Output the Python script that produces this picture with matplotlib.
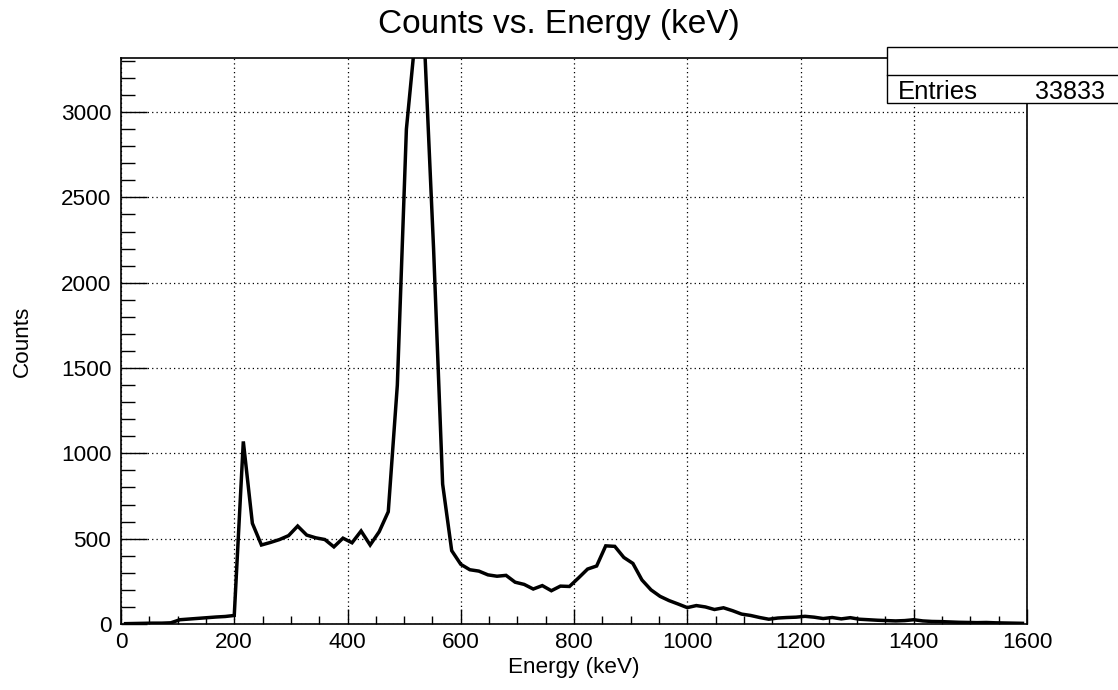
"""Counts vs. energy spectrum, ROOT-style histogram drawn as a line."""

import matplotlib
matplotlib.use("Agg")
import matplotlib.pyplot as plt
from matplotlib.patches import Rectangle
from matplotlib.ticker import MultipleLocator
import numpy as np

# 100 bins of 16 keV between 0 and 1600 keV
BIN_WIDTH = 16
energy_kev = np.arange(BIN_WIDTH / 2, 1600, BIN_WIDTH)
counts = [
    2, 3, 4, 5, 5, 7, 25, 29, 33, 37,
    41, 44, 50, 1070, 590, 463, 478, 495, 518, 574,
    521, 505, 495, 452, 503, 476, 545, 463, 541, 658,
    1400, 2900, 3450, 3400, 2200, 820, 430, 350, 318, 310,
    288, 280, 285, 245, 232, 205, 225, 195, 222, 220,
    270, 322, 340, 458, 455, 390, 355, 258, 200, 162,
    137, 117, 96, 108, 100, 85, 95, 78, 58, 50,
    38, 28, 35, 38, 40, 45, 40, 32, 38, 30,
    37, 28, 25, 22, 20, 18, 20, 25, 18, 15,
    14, 12, 10, 9, 8, 9, 7, 6, 5, 4,
]
entries = 33833
x_limits = (0, 1600)
y_limits = (0, 3317)

plt.rcParams.update({
    "font.family": ["Liberation Sans", "DejaVu Sans"],
    "font.size": 16,
})

fig = plt.figure(figsize=(11.18, 6.9), dpi=100)
ax = fig.add_axes([121 / 1118, 66 / 690, 906 / 1118, 566 / 690])

ax.plot(energy_kev, counts, color="black", linewidth=2.5, solid_joinstyle="miter")
ax.set_xlim(*x_limits)
ax.set_ylim(*y_limits)

ax.xaxis.set_major_locator(MultipleLocator(200))
ax.xaxis.set_minor_locator(MultipleLocator(50))
ax.yaxis.set_major_locator(MultipleLocator(500))
ax.yaxis.set_minor_locator(MultipleLocator(100))
ax.tick_params(axis="x", which="major", direction="in", length=11, width=1.0, pad=6,
               labelsize=16.2)
ax.tick_params(axis="x", which="minor", direction="in", length=5.5, width=1.0)
ax.tick_params(axis="y", which="major", direction="in", length=19, width=1.0, pad=7,
               labelsize=16.2)
ax.tick_params(axis="y", which="minor", direction="in", length=10, width=1.0)
ax.grid(which="major", color="black", linestyle=(0, (1, 2.5)), linewidth=0.9)
for spine in ax.spines.values():
    spine.set_linewidth(1.2)

ax.set_xlabel("Energy (keV)", fontsize=16.2, labelpad=3)
ax.set_ylabel("Counts", fontsize=16.2, labelpad=20)

fig.text(0.5, 1 - 33 / 690, "Counts vs. Energy (keV)", ha="center",
         va="baseline", fontsize=24)

# statistics box in the top right corner, partly off the canvas
box_left, box_top, box_mid, box_bottom = 887 / 1118, 1 - 47 / 690, 1 - 75 / 690, 1 - 103 / 690
fig.add_artist(Rectangle((box_left, box_bottom), 1.05 - box_left, box_top - box_bottom,
                         transform=fig.transFigure, facecolor="white",
                         edgecolor="black", linewidth=1.0, zorder=5))
fig.add_artist(plt.Line2D([box_left, 1.0], [box_mid, box_mid], transform=fig.transFigure,
                          color="black", linewidth=1.0, zorder=6))
fig.text(898 / 1118, 1 - 99 / 690, "Entries", ha="left", va="baseline",
         fontsize=18.5, zorder=7)
fig.text(1105 / 1118, 1 - 99 / 690, f"{entries}", ha="right", va="baseline",
         fontsize=18, zorder=7)

fig.savefig("out.png", dpi=100)
